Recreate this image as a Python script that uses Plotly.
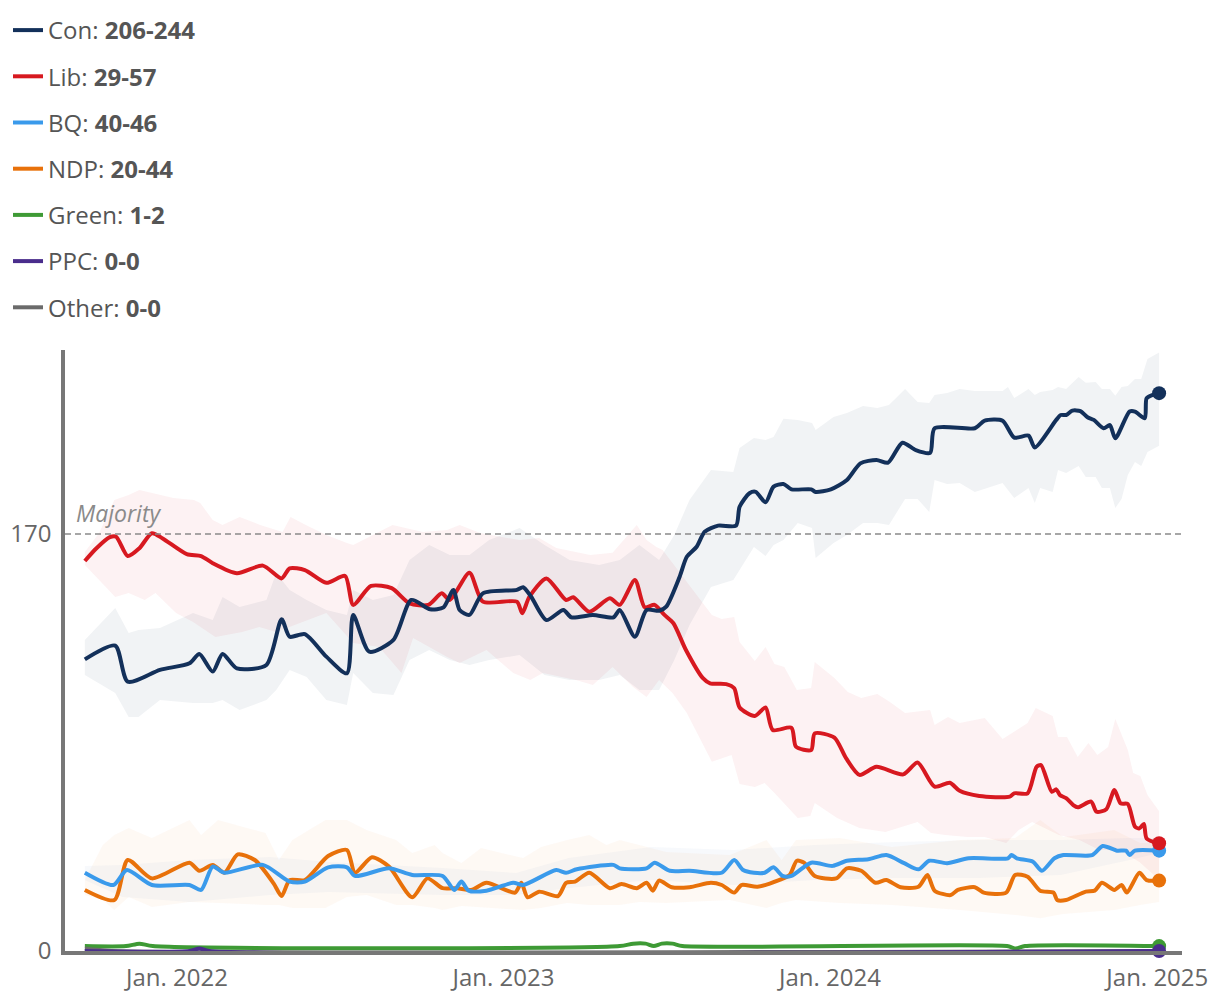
import plotly.graph_objects as go

# ---------------- data ----------------
con_dates = ["2021-09-20","2021-10-24","2021-11-07","2021-12-13","2022-01-15","2022-01-26","2022-02-10","2022-02-21",
"2022-03-09","2022-04-11","2022-04-28","2022-05-07","2022-05-24","2022-06-17","2022-07-10","2022-07-17","2022-08-04",
"2022-08-31","2022-09-20","2022-10-11","2022-10-26","2022-11-06","2022-11-13","2022-11-24","2022-12-09","2023-01-16",
"2023-01-23","2023-02-01","2023-02-18","2023-03-09","2023-03-18","2023-04-11","2023-05-04","2023-05-11","2023-05-28",
"2023-06-10","2023-06-24","2023-07-02","2023-07-17","2023-07-25","2023-08-05","2023-08-14","2023-08-29","2023-09-18",
"2023-09-22","2023-10-03","2023-10-10","2023-10-21","2023-10-30","2023-11-10","2023-11-19","2023-12-11","2023-12-16",
"2024-01-02","2024-01-20","2024-02-04","2024-02-22","2024-03-06","2024-03-22","2024-04-06","2024-04-22","2024-04-27",
"2024-06-11","2024-06-22","2024-07-12","2024-07-25","2024-08-10","2024-08-17","2024-09-10","2024-09-15","2024-09-21",
"2024-09-28","2024-10-07","2024-10-15","2024-10-22","2024-11-02","2024-11-09","2024-11-15","2024-12-01","2024-12-07",
"2024-12-18","2024-12-20","2024-12-27","2025-01-03"]
con_seats = [118.9,124.5,109.8,114.6,117.3,121.1,113.9,121.1,115.2,116.6,135.2,128.1,129.2,120.0,113.2,137.0,122.0,
126.8,143.1,139.3,140.1,147.2,139.0,137.0,145.8,147.2,148.3,144.4,134.9,139.0,136.0,137.0,136.0,139.0,128.1,
139.0,138.7,140.4,152.6,160.7,164.8,170.9,173.4,173.4,181.1,186.6,187.2,182.9,189.3,190.4,188.2,188.2,187.1,
188.2,192.0,198.8,200.2,199.1,207.2,204.2,203.1,213.1,213.1,216.2,216.2,209.3,210.1,205.3,216.5,218.5,218.5,
220.3,220.1,217.6,216.5,213.1,214.4,209.0,219.9,219.9,217.2,225.3,226.7,227.4]

lib_dates = ["2021-09-20","2021-10-03","2021-10-18","2021-10-25","2021-11-07","2021-11-20","2021-12-04","2021-12-16",
"2022-01-12","2022-01-28","2022-02-10","2022-03-09","2022-04-07","2022-04-28","2022-05-07","2022-05-24","2022-06-17",
"2022-07-08","2022-07-17","2022-08-06","2022-08-29","2022-09-18","2022-10-09","2022-10-24","2022-11-02","2022-11-24",
"2022-12-09","2023-01-16","2023-01-22","2023-01-30","2023-02-18","2023-03-12","2023-03-20","2023-04-07","2023-04-30",
"2023-05-11","2023-05-28","2023-06-08","2023-06-19","2023-06-30","2023-07-10","2023-07-24","2023-08-12","2023-08-20",
"2023-09-07","2023-09-16","2023-09-22","2023-10-09","2023-10-21","2023-10-29","2023-11-19","2023-11-24","2023-12-11",
"2023-12-15","2024-01-06","2024-01-19","2024-02-03","2024-02-22","2024-03-23","2024-04-08","2024-04-27","2024-05-14",
"2024-05-25","2024-06-16","2024-07-20","2024-07-25","2024-08-09","2024-08-19","2024-08-24","2024-09-05","2024-09-10",
"2024-09-14","2024-09-21","2024-09-29","2024-10-04","2024-10-19","2024-10-25","2024-11-05","2024-11-14","2024-11-21",
"2024-11-29","2024-12-07","2024-12-12","2024-12-17","2024-12-20","2025-01-03"]
lib_seats = [159.0,164.2,168.7,168.9,161.0,164.2,170.3,168.2,161.8,161.0,158.1,154.0,157.1,151.9,156.0,155.3,150.1,
152.9,141.1,148.8,147.9,141.7,141.1,145.8,143.1,154.2,142.4,142.4,137.7,144.4,151.9,143.1,144.2,138.3,143.8,
141.1,151.2,140.1,141.1,137.0,133.6,122.7,111.2,109.1,108.8,107.1,99.3,95.8,99.3,90.1,91.0,83.3,81.9,88.7,
87.0,78.6,71.8,75.1,72.0,76.8,67.0,68.6,65.3,63.2,62.9,64.3,64.3,75.1,75.8,64.9,65.9,63.6,62.3,59.5,58.6,
60.9,56.8,57.8,65.6,60.2,59.9,50.7,50.0,51.8,45.9,43.9]

bq_dates = ["2021-09-20","2021-10-22","2021-11-06","2021-12-04","2022-01-15","2022-01-28","2022-02-10","2022-02-23",
"2022-04-07","2022-05-07","2022-05-24","2022-06-19","2022-07-10","2022-07-19","2022-08-26","2022-09-21","2022-10-25",
"2022-11-07","2022-11-15","2022-11-23","2022-12-13","2023-01-12","2023-01-23","2023-03-01","2023-03-12","2023-03-24",
"2023-05-04","2023-05-11","2023-06-10","2023-06-19","2023-07-06","2023-07-28","2023-09-02","2023-09-16","2023-09-26",
"2023-10-08","2023-10-20","2023-10-30","2023-11-09","2023-11-19","2023-12-11","2024-01-04","2024-01-20","2024-02-13",
"2024-03-04","2024-03-24","2024-04-09","2024-04-21","2024-05-11","2024-06-04","2024-07-18","2024-07-22","2024-07-28",
"2024-08-15","2024-08-25","2024-09-08","2024-09-18","2024-10-20","2024-11-01","2024-11-17","2024-11-27","2024-12-01",
"2024-12-07","2025-01-03"]
bq_seats = [31.9,26.9,33.0,26.9,26.9,24.9,34.4,31.9,35.1,28.3,28.3,34.1,34.1,30.6,33.7,31.0,30.6,24.9,28.3,24.6,
24.6,27.8,26.9,33.0,31.9,33.3,35.1,33.7,33.7,36.0,32.7,32.7,31.9,37.1,33.0,31.9,31.9,34.1,30.6,30.6,36.0,34.7,
36.8,37.4,39.1,35.8,33.3,36.8,35.8,37.8,37.8,39.1,37.8,36.4,32.7,37.8,39.1,39.1,42.8,40.9,40.9,39.1,40.9,40.9]

ndp_dates = ["2021-09-20","2021-10-23","2021-11-07","2021-12-04","2022-01-15","2022-01-26","2022-02-10","2022-02-23",
"2022-03-10","2022-03-29","2022-04-19","2022-04-28","2022-05-07","2022-05-24","2022-06-19","2022-07-10","2022-07-19",
"2022-08-07","2022-08-26","2022-09-21","2022-10-08","2022-10-25","2022-11-10","2022-11-26","2022-12-13","2023-01-14",
"2023-01-21","2023-01-28","2023-02-10","2023-03-03","2023-03-12","2023-03-22","2023-04-07","2023-04-30","2023-05-13",
"2023-05-30","2023-06-10","2023-06-17","2023-06-24","2023-07-08","2023-07-28","2023-08-21","2023-09-02","2023-09-16",
"2023-09-24","2023-10-12","2023-11-05","2023-11-17","2023-11-25","2023-12-03","2023-12-15","2024-01-08","2024-01-20",
"2024-02-05","2024-02-21","2024-03-04","2024-03-20","2024-04-09","2024-04-19","2024-04-27","2024-05-15","2024-05-23",
"2024-06-11","2024-06-21","2024-07-16","2024-07-26","2024-08-09","2024-08-23","2024-09-07","2024-09-11","2024-09-21",
"2024-10-13","2024-10-23","2024-10-31","2024-11-14","2024-11-22","2024-11-28","2024-12-12","2024-12-20","2025-01-03"]
ndp_seats = [24.9,20.8,37.1,29.6,36.0,32.7,35.1,31.9,39.4,37.1,27.6,22.4,28.9,28.9,38.7,41.2,31.9,38.2,34.4,21.9,
29.6,25.6,25.6,24.9,27.8,23.8,27.8,21.9,24.2,22.4,27.8,28.3,31.9,25.6,27.3,25.6,27.8,24.6,28.7,26.0,26.0,27.8,
26.9,23.8,26.9,26.2,28.9,31.0,36.8,36.0,30.6,29.6,33.7,32.7,27.8,28.9,26.0,26.2,31.0,24.6,22.8,24.9,26.0,23.8,
23.8,31.0,30.3,24.6,23.8,20.8,20.8,24.2,24.6,27.8,24.9,26.9,23.8,31.9,28.9,28.7]

green_dates = ["2021-09-20","2021-11-05","2021-11-20","2021-12-05","2023-05-11","2023-05-26","2023-06-09","2023-06-18",
"2023-06-27","2023-07-09","2023-07-20","2024-07-17","2024-07-27","2024-08-06","2025-01-03"]
green_seats = [2,2,3,2,2,3,3,2,3,3,2,2,1,2,2]

ppc_dates = ["2021-09-20","2022-01-15","2022-01-26","2022-02-06","2025-01-03"]
ppc_seats = [0,0,1,0,0]

other_dates = ["2021-09-20","2021-10-20","2025-01-03"]
other_seats = [1,0,0]

# uncertainty bands
con_band_dates = ["2021-09-20","2021-10-24","2021-11-08","2021-11-19","2021-12-13","2022-01-19","2022-02-10","2022-02-21",
"2022-03-12","2022-04-11","2022-04-22","2022-05-07","2022-05-26","2022-06-17","2022-07-10","2022-07-17","2022-08-08",
"2022-08-31","2022-09-18","2022-10-10","2022-11-02","2022-11-24","2022-12-16","2023-01-19","2023-02-16","2023-03-16",
"2023-04-18","2023-05-11","2023-06-02","2023-06-24","2023-07-11","2023-07-28","2023-08-21","2023-09-15","2023-09-22",
"2023-10-08","2023-10-21","2023-10-30","2023-11-10","2023-11-26","2023-12-12","2023-12-16","2024-01-05","2024-01-20",
"2024-02-07","2024-02-23","2024-03-07","2024-03-25","2024-04-08","2024-04-21","2024-04-27","2024-05-11","2024-05-25",
"2024-06-11","2024-07-12","2024-07-18","2024-07-25","2024-08-10","2024-08-17","2024-08-23","2024-09-06","2024-09-12",
"2024-09-21","2024-10-05","2024-10-13","2024-10-24","2024-10-31","2024-11-09","2024-11-15","2024-11-22","2024-11-29",
"2024-12-07","2024-12-14","2024-12-21","2025-01-03"]
con_band_hi = [126.8,139.8,129.6,130.9,131.7,137.8,134.9,144.3,140.2,143.1,154.1,147.2,143.1,139.0,137.0,147.2,143.1,
145.1,159.4,165.5,161.4,161.4,167.5,172.4,165.5,159.4,157.4,159.4,165.5,159.4,169.6,183.9,196.1,195.3,205.1,
209.1,208.3,209.5,217.0,216.5,215.2,212.4,217.7,219.3,222.2,221.4,222.6,229.1,223.8,223.4,226.7,227.5,229.1,
228.3,228.3,229.9,225.4,229.1,226.7,227.9,228.7,229.9,229.1,234.0,231.6,232.0,229.1,229.1,226.3,229.9,230.3,
233.2,233.2,241.3,244.0]
con_band_lo = [112.5,105.2,95.4,95.4,102.3,101.1,101.1,102.3,98.2,102.3,106.4,114.6,111.7,102.3,100.3,113.3,105.2,
104.4,118.6,122.7,118.6,116.6,118.6,120.7,112.5,110.5,110.5,112.5,106.4,106.4,118.6,132.9,148.4,151.2,155.3,
164.7,161.0,165.5,167.5,174.5,172.4,160.2,166.3,169.6,174.5,174.5,173.7,184.3,184.3,179.0,192.0,190.4,190.8,
187.1,190.8,187.9,184.7,188.7,182.6,188.7,187.1,196.1,194.9,197.7,193.2,193.2,188.7,188.7,180.6,184.3,194.0,
199.3,197.7,203.4,206.0]

lib_hi_dates = ["2021-09-20","2021-10-06","2021-10-23","2021-11-08","2021-11-20","2021-12-08","2021-12-28","2022-01-20",
"2022-01-27","2022-02-10","2022-02-21","2022-03-12","2022-04-04","2022-04-29","2022-05-08","2022-05-25","2022-06-17",
"2022-07-10","2022-07-17","2022-08-08","2022-08-30","2022-10-03","2022-10-30","2022-11-13","2022-12-06","2023-01-19",
"2023-02-10","2023-03-01","2023-04-08","2023-05-03","2023-05-19","2023-05-30","2023-06-10","2023-06-21","2023-06-28",
"2023-08-09","2023-08-22","2023-09-02","2023-09-16","2023-09-22","2023-10-09","2023-10-21","2023-10-31","2023-11-11",
"2023-11-25","2023-12-11","2023-12-15","2024-01-06","2024-01-21","2024-02-05","2024-02-23","2024-03-08","2024-03-25",
"2024-04-22","2024-04-27","2024-05-12","2024-05-25","2024-06-22","2024-07-12","2024-08-09","2024-08-18","2024-09-06",
"2024-09-12","2024-09-22","2024-10-04","2024-10-16","2024-10-26","2024-11-07","2024-11-15","2024-11-29","2024-12-05",
"2024-12-13","2024-12-21","2025-01-03"]
lib_hi = [162.7,170.4,183.9,185.9,187.9,186.3,184.7,183.9,182.6,175.7,173.7,176.9,173.7,170.8,176.9,173.7,169.6,
166.3,165.5,169.6,173.7,170.8,171.6,173.7,170.4,167.5,168.4,164.3,161.4,162.3,168.8,173.7,167.5,164.7,163.5,
143.1,137.0,135.3,136.2,126.0,118.2,123.9,117.0,115.8,106.4,107.2,117.8,111.3,105.6,103.1,104.8,101.5,97.0,
98.2,92.1,95.4,92.9,95.0,86.4,92.9,99.1,95.8,87.2,87.2,79.1,84.8,79.9,83.2,94.6,81.9,72.6,71.3,63.6,57.0]
lib_lo_dates = ["2021-09-20","2021-10-06","2021-10-24","2021-11-08","2021-11-26","2021-12-08","2021-12-31","2022-01-19",
"2022-02-13","2022-03-15","2022-04-03","2022-04-22","2022-06-17","2022-07-17","2022-08-15","2022-09-09","2022-09-22",
"2022-10-30","2022-11-13","2022-12-13","2023-01-12","2023-01-31","2023-02-14","2023-03-23","2023-04-11","2023-05-03",
"2023-05-26","2023-06-10","2023-06-24","2023-07-09","2023-07-25","2023-08-22","2023-09-13","2023-09-22","2023-10-09",
"2023-10-20","2023-10-31","2023-11-15","2023-11-26","2023-12-10","2023-12-15","2024-01-09","2024-02-03","2024-03-03",
"2024-04-08","2024-04-23","2024-05-09","2024-06-03","2024-06-22","2024-07-16","2024-07-30","2024-08-14","2024-08-21",
"2024-09-13","2024-10-06","2024-10-28","2024-11-20","2024-12-12","2025-01-03"]
lib_lo = [157.4,151.2,144.3,145.9,143.1,145.9,137.8,134.1,128.0,130.0,132.1,130.0,137.8,125.6,123.9,113.3,127.6,
119.9,117.4,122.7,113.3,110.5,113.3,110.5,108.4,115.8,107.6,103.5,110.5,105.2,97.0,77.1,79.9,68.1,66.9,68.5,
64.4,58.7,54.2,55.0,60.3,54.2,50.1,48.5,52.6,48.1,47.3,46.5,46.5,44.0,49.3,52.6,51.4,47.3,45.3,41.2,41.2,36.3,29.0]

bq_band_dates = ["2021-09-20","2021-11-01","2022-01-15","2022-04-15","2022-06-20","2022-10-25","2023-01-15","2023-03-15",
"2023-06-15","2023-09-15","2023-12-15","2024-03-15","2024-06-15","2024-09-15","2024-12-01","2025-01-03"]
bq_band_hi = [34.7,35.1,37.1,38.3,36.3,33.8,31.8,37.9,42.4,41.2,43.2,44.4,45.3,45.3,46.1,46.0]
bq_band_lo = [28.9,22.0,20.0,22.8,24.1,22.8,22.8,25.7,28.9,26.9,28.9,29.8,29.8,31.0,37.1,40.0]

ndp_band_dates = ["2021-09-20","2021-10-10","2021-10-23","2021-11-08","2021-12-04","2022-01-15","2022-01-28","2022-02-16",
"2022-04-10","2022-04-25","2022-05-10","2022-06-16","2022-07-10","2022-08-01","2022-09-03","2022-09-21","2022-10-16",
"2022-10-25","2022-11-15","2022-12-07","2023-01-23","2023-02-12","2023-03-13","2023-04-07","2023-04-26","2023-05-11",
"2023-06-02","2023-07-02","2023-09-11","2023-10-22","2023-11-08","2023-11-24","2024-01-12","2024-03-10","2024-05-25",
"2024-07-26","2024-08-23","2024-09-18","2024-11-14","2024-12-13","2025-01-03"]
ndp_band_hi = [28.9,43.2,47.3,50.1,46.1,53.4,47.3,53.4,48.1,37.1,45.3,53.4,53.4,49.3,45.3,40.0,43.2,40.0,35.9,42.0,
37.9,42.4,45.3,47.3,43.2,45.3,43.2,40.4,39.1,45.3,37.1,45.3,46.1,42.4,45.3,46.1,53.4,46.5,49.3,44.0,44.0]
ndp_band_lo = [22.8,20.8,16.7,22.0,17.9,20.0,20.0,19.6,18.8,18.8,17.5,17.5,22.0,22.8,18.8,18.8,17.5,16.7,18.3,17.9,
16.7,17.5,19.6,18.8,18.8,18.8,20.0,19.6,20.8,17.5,19.6,20.8,19.6,18.8,16.7,14.7,13.4,15.1,16.7,18.8,20.0]

tick_vals = ["2022-01-01", "2023-01-01", "2024-01-01", "2025-01-01"]
tick_text = ["Jan. 2022", "Jan. 2023", "Jan. 2024", "Jan. 2025"]
majority = 170

# ---------------- styles ----------------
FONT = "Open Sans"
C_CON, C_LIB, C_BQ, C_NDP = "#13305a", "#d71920", "#3a9aeb", "#e8710a"
C_GRN, C_PPC, C_OTH = "#3e9a35", "#4a2d8c", "#6b6b6b"

fig = go.Figure()

def band(dates_hi, hi, dates_lo, lo, color):
    fig.add_trace(go.Scatter(
        x=list(dates_hi) + list(dates_lo)[::-1], y=list(hi) + list(lo)[::-1],
        fill="toself", fillcolor=color, mode="lines", line=dict(width=0),
        showlegend=False, hoverinfo="skip"))

band(con_band_dates, con_band_hi, con_band_dates, con_band_lo, "rgba(19,48,90,0.06)")
band(lib_hi_dates, lib_hi, lib_lo_dates, lib_lo, "rgba(215,25,32,0.055)")
band(ndp_band_dates, ndp_band_hi, ndp_band_dates, ndp_band_lo, "rgba(232,113,10,0.045)")
band(bq_band_dates, bq_band_hi, bq_band_dates, bq_band_lo, "rgba(60,120,180,0.045)")

series = [
    ("Con", "206-244", con_dates, con_seats, C_CON, 1),
    ("Lib", "29-57", lib_dates, lib_seats, C_LIB, 2),
    ("BQ", "40-46", bq_dates, bq_seats, C_BQ, 3),
    ("NDP", "20-44", ndp_dates, ndp_seats, C_NDP, 4),
    ("Green", "1-2", green_dates, green_seats, C_GRN, 5),
    ("PPC", "0-0", ppc_dates, ppc_seats, C_PPC, 6),
    ("Other", "0-0", other_dates, other_seats, C_OTH, 7),
]
draw_order = ["NDP", "BQ", "Lib", "Con", "Green", "Other", "PPC"]
lookup = {s[0]: s for s in series}
for name in draw_order:
    n, rng, d, v, col, rank = lookup[name]
    fig.add_trace(go.Scatter(
        x=d, y=v, mode="lines", name=f"{n}: <b>{rng}</b>",
        line=dict(color=col, width=4, shape="spline", smoothing=0.7),
        legendgroup=n, legendrank=rank, hoverinfo="skip"))

for name in ["BQ", "Lib", "NDP", "Con", "Green", "PPC"]:
    n, rng, d, v, col, rank = lookup[name]
    fig.add_trace(go.Scatter(
        x=[d[-1]], y=[v[-1]], mode="markers", marker=dict(color=col, size=14),
        showlegend=False, hoverinfo="skip", cliponaxis=False))

fig.add_shape(type="line", xref="paper", x0=0, x1=1, yref="y", y0=majority, y1=majority,
              line=dict(color="#8a8a8a", width=1.5, dash="6px,4px"), layer="above")
fig.add_annotation(text="<i>Majority</i>", xref="paper", x=0.008, yref="y", y=majority,
                   xanchor="left", yanchor="bottom", yshift=3, showarrow=False,
                   font=dict(family=FONT, size=23, color="#8a8a8a"))

# the page adds an 8px body margin, so the figure margins are offset accordingly
fig.update_layout(
    width=1220, height=1002,
    margin=dict(l=57, r=46, t=342, b=59, autoexpand=False),
    paper_bgcolor="white", plot_bgcolor="white",
    font=dict(family=FONT, size=24, color="#666"),
    showlegend=True,
    legend=dict(xref="container", yref="container", x=0.0, y=1.0, xanchor="left", yanchor="top",
                traceorder="grouped", tracegroupgap=12, itemwidth=30,
                font=dict(family=FONT, size=24, color="#555"), bgcolor="rgba(0,0,0,0)"),
    xaxis=dict(type="date", range=["2021-08-28 20:00", "2025-01-28 14:00"],
               tickvals=tick_vals, ticktext=tick_text, showgrid=False, zeroline=False,
               showline=True, linecolor="#777", linewidth=3.5, ticks="", ticklabelstandoff=2,
               tickfont=dict(family=FONT, size=24, color="#666")),
    yaxis=dict(range=[0, 245], tickvals=[0, majority], ticktext=["0", "170"], showgrid=False,
               zeroline=False, showline=True, linecolor="#777", linewidth=3.5, ticks="",
               ticklabelstandoff=5, tickfont=dict(family=FONT, size=24, color="#666")),
)

fig.write_html("out.html")
